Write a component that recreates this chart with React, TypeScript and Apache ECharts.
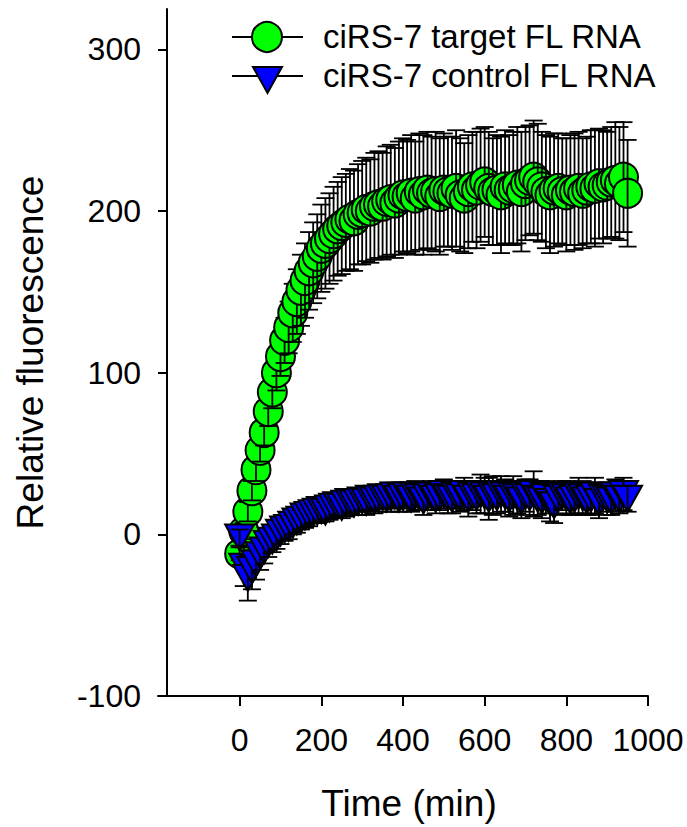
import React, { useEffect, useRef } from "react";
import * as echarts from "echarts";

const timeMin = [
  0, 10, 20, 30, 40, 50, 60, 70, 80, 90,
  100, 110, 120, 130, 140, 150, 160, 170, 180, 190,
  200, 210, 220, 230, 240, 250, 260, 270, 280, 290,
  300, 310, 320, 330, 340, 350, 360, 370, 380, 390,
  400, 410, 420, 430, 440, 450, 460, 470, 480, 490,
  500, 510, 520, 530, 540, 550, 560, 570, 580, 590,
  600, 610, 620, 630, 640, 650, 660, 670, 680, 690,
  700, 710, 720, 730, 740, 750, 760, 770, 780, 790,
  800, 810, 820, 830, 840, 850, 860, 870, 880, 890,
  900, 910, 920, 930, 940, 950,
];

const targetValues = [
  -12, 2, 14, 27, 40, 52, 63, 76, 88, 100,
  110, 120, 128, 137, 144, 151, 157, 163, 168, 172,
  177, 180, 183, 186, 189, 191, 193, 195, 194, 198,
  199, 201, 200, 203, 204, 203, 206, 207, 205, 208,
  210, 209, 211, 208, 212, 210, 213, 211, 212, 209,
  213, 212, 211, 214, 210, 208, 212, 215, 213, 216,
  218, 214, 212, 213, 210, 215, 213, 214, 216, 212,
  217, 219, 221, 218, 215, 212, 210, 213, 214, 212,
  210, 213, 212, 214, 211, 213, 215, 214, 217, 215,
  216, 218, 219, 217, 221, 211,
];

const targetErrors = [
  4, 5, 6, 6, 7, 7, 8, 9, 10, 11,
  12, 14, 16, 18, 20, 22, 23, 24, 25, 26,
  27, 28, 28, 29, 29, 30, 30, 31, 31, 31,
  32, 32, 32, 33, 33, 33, 34, 34, 34, 35,
  35, 35, 36, 35, 36, 37, 36, 35, 37, 36,
  35, 34, 35, 36, 35, 34, 35, 34, 36, 35,
  34, 35, 33, 34, 36, 35, 34, 35, 36, 37,
  35, 34, 35, 36, 34, 35, 36, 35, 34, 33,
  35, 34, 36, 35, 34, 33, 35, 36, 34, 35,
  33, 34, 36, 35, 34, 33,
];

const controlValues = [
  -2, -20, -27, -22, -18, -13, -10, -6, -4, -2,
  1, 3, 4, 6, 8, 9, 11, 12, 13, 14,
  15, 14, 16, 17, 18, 17, 19, 20, 19, 20,
  21, 20, 22, 21, 22, 23, 22, 23, 24, 22,
  23, 24, 22, 24, 23, 21, 23, 24, 22, 23,
  25, 23, 22, 24, 23, 25, 22, 24, 23, 25,
  24, 22, 24, 23, 25, 24, 22, 24, 23, 21,
  24, 23, 25, 22, 21, 23, 20, 18, 22, 24,
  23, 21, 22, 24, 23, 21, 22, 24, 20, 23,
  22, 21, 24, 22, 25, 22,
];

const controlErrors = [
  5, 12, 14, 12, 10, 9, 8, 8, 7, 7,
  7, 7, 7, 6, 7, 6, 7, 7, 6, 7,
  7, 6, 7, 7, 6, 7, 8, 7, 7, 8,
  7, 8, 7, 8, 8, 7, 8, 9, 8, 8,
  9, 8, 8, 9, 8, 9, 8, 9, 9, 8,
  9, 10, 9, 8, 9, 10, 11, 9, 10, 12,
  11, 13, 12, 10, 11, 10, 11, 12, 10, 11,
  10, 11, 14, 10, 11, 10, 12, 11, 10, 9,
  10, 9, 10, 11, 10, 9, 10, 11, 10, 9,
  10, 9, 10, 9, 10, 8,
];

const xTicks = [0, 200, 400, 600, 800, 1000];
const yTicks = [-100, 0, 100, 200, 300];

const seriesNames = ["ciRS-7 target FL RNA", "ciRS-7 control FL RNA"];

const FONT = "'Liberation Sans', Arial, Helvetica, sans-serif";

function errorBarChildren(c: number[], hi: number[], lo: number[]) {
  const cap = 9;
  const st = { stroke: "#000", lineWidth: 1.8 };
  return [
    { type: "line", shape: { x1: c[0], y1: hi[1], x2: c[0], y2: lo[1] }, style: st },
    { type: "line", shape: { x1: c[0] - cap, y1: hi[1], x2: c[0] + cap, y2: hi[1] }, style: st },
    { type: "line", shape: { x1: c[0] - cap, y1: lo[1], x2: c[0] + cap, y2: lo[1] }, style: st },
  ];
}

export default function App() {
  const ref = useRef<HTMLDivElement>(null);

  useEffect(() => {
    if (!ref.current) return;
    const chart = echarts.init(ref.current, null, { renderer: "svg" });

    const targetData = timeMin.map((t, i) => [t, targetValues[i], targetErrors[i]]);
    const controlData = timeMin.map((t, i) => [t, controlValues[i], controlErrors[i]]);

    const option: any = {
      animation: false,
      backgroundColor: "#fff",
      grid: { left: 158, right: 39, top: 9, bottom: 131, containLabel: false },
      xAxis: {
        type: "value",
        min: -200,
        max: 1000,
        name: "Time (min)",
        nameLocation: "middle",
        nameGap: 89,
        nameTextStyle: { fontSize: 37, fontFamily: FONT, color: "#000", padding: [0, 0, 0, 12] },
        axisLine: { show: true, onZero: false, lineStyle: { color: "#000", width: 2 } },
        axisTick: { show: true, inside: false, length: 10, customValues: xTicks, lineStyle: { color: "#000", width: 2 } },
        axisLabel: {
          customValues: xTicks,
          formatter: (v: number) => String(v),
          fontSize: 32,
          fontFamily: FONT,
          color: "#000",
          margin: 28,
        },
        splitLine: { show: false },
      },
      yAxis: {
        type: "value",
        min: -100,
        max: 325,
        offset: -9,
        name: "Relative fluorescence",
        nameLocation: "middle",
        nameGap: 118,
        nameTextStyle: { fontSize: 37, fontFamily: FONT, color: "#000" },
        axisLine: { show: true, onZero: false, lineStyle: { color: "#000", width: 2 } },
        axisTick: { show: true, inside: false, length: 9, customValues: yTicks, lineStyle: { color: "#000", width: 2 } },
        axisLabel: {
          customValues: yTicks,
          formatter: (v: number) => String(v),
          fontSize: 32,
          fontFamily: FONT,
          color: "#000",
          margin: 26,
        },
        splitLine: { show: false },
      },
      series: [
        {
          name: seriesNames[0],
          type: "custom",
          data: targetData,
          encode: { x: 0, y: 1 },
          clip: false,
          renderItem: (params: any, api: any) => {
            const x = api.value(0);
            const y = api.value(1);
            const e = api.value(2);
            const c = api.coord([x, y]);
            const hi = api.coord([x, y + e]);
            const lo = api.coord([x, y - e]);
            return {
              type: "group",
              children: [
                {
                  type: "circle",
                  shape: { cx: c[0], cy: c[1], r: 14.5 },
                  style: { fill: "#00ff00", stroke: "#000", lineWidth: 2 },
                },
                ...errorBarChildren(c, hi, lo),
              ],
            };
          },
        },
        {
          name: seriesNames[1],
          type: "custom",
          data: controlData,
          encode: { x: 0, y: 1 },
          clip: false,
          renderItem: (params: any, api: any) => {
            const x = api.value(0);
            const y = api.value(1);
            const e = api.value(2);
            const c = api.coord([x, y]);
            const hi = api.coord([x, y + e]);
            const lo = api.coord([x, y - e]);
            return {
              type: "group",
              children: [
                {
                  type: "polygon",
                  shape: {
                    points: [
                      [c[0] - 14.5, c[1] - 13],
                      [c[0] + 14.5, c[1] - 13],
                      [c[0], c[1] + 13],
                    ],
                  },
                  style: { fill: "#0000ff", stroke: "#000", lineWidth: 2 },
                },
                ...errorBarChildren(c, hi, lo),
              ],
            };
          },
        },
      ],
      graphic: [
        { type: "line", shape: { x1: 232, y1: 37, x2: 303, y2: 37 }, style: { stroke: "#000", lineWidth: 2 } },
        { type: "circle", shape: { cx: 267, cy: 37, r: 15 }, style: { fill: "#00ff00", stroke: "#000", lineWidth: 2 } },
        {
          type: "text",
          left: 323,
          top: 20,
          style: { text: seriesNames[0], fontSize: 33, fontFamily: FONT, fill: "#000" },
        },
        { type: "line", shape: { x1: 232, y1: 76, x2: 303, y2: 76 }, style: { stroke: "#000", lineWidth: 2 } },
        {
          type: "polygon",
          shape: { points: [[253, 67], [282, 67], [267.5, 93]] },
          style: { fill: "#0000ff", stroke: "#000", lineWidth: 2 },
        },
        {
          type: "text",
          left: 323,
          top: 59,
          style: { text: seriesNames[1], fontSize: 33, fontFamily: FONT, fill: "#000" },
        },
      ],
    };

    chart.setOption(option);
    return () => chart.dispose();
  }, []);

  return <div ref={ref} style={{ width: 687, height: 827, position: "absolute", left: 0, top: 0 }} />;
}
